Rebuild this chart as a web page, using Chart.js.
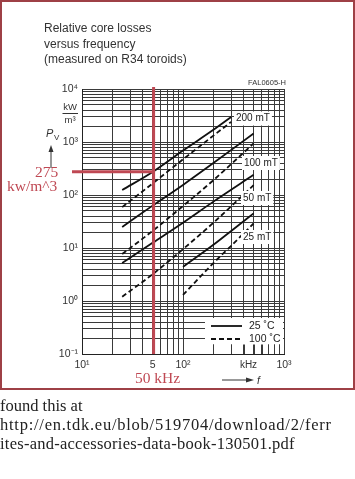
<!DOCTYPE html>
<html>
<head>
<meta charset="utf-8">
<script src="https://cdn.jsdelivr.net/npm/chart.js@4.4.1/dist/chart.umd.min.js"></script>
<style>
  body { margin: 0; background: #fff; width: 355px; height: 479px; overflow: hidden; position: relative; }
  #frame { position: absolute; left: 0; top: 0; width: 355px; height: 390px; border: 2px solid #9e4046; box-sizing: border-box; }
  #wrap { position: absolute; left: 0; top: 0; width: 355px; height: 479px; }
  #title { position: absolute; left: 44px; top: 21px; font: 12px "Liberation Sans", Arial, sans-serif; line-height: 15.5px; color: #333; }
  #source { position: absolute; left: 0; top: 396px; font: 16.5px "Liberation Serif", serif; line-height: 19px; color: #222; white-space: nowrap; }
  #source .l2 { letter-spacing: 0.75px; }
  #source .l3 { letter-spacing: 0.25px; }
</style>
</head>
<body>
<div id="frame"></div>
<div id="wrap"><canvas id="lossChart" width="355" height="479"></canvas></div>
<div id="title">Relative core losses<br>versus frequency<br>(measured on R34 toroids)</div>
<div id="source"><div>found this at</div><div class="l2">http://en.tdk.eu/blob/519704/download/2/ferr</div><div class="l3">ites-and-accessories-data-book-130501.pdf</div></div>
<script>
// frequency in kHz, core losses in kW/m^3
const freq200 = [25, 50, 100, 200, 300];
const loss200at25C = [124, 272, 690, 1700, 2970];
const loss200at100C = [59, 165, 470, 1320, 2400];

const freq100 = [25, 50, 100, 200, 500];
const loss100at25C = [25, 63, 155, 400, 1450];
const loss100at100C = [7.7, 21, 62, 190, 940];

const freq50 = [25, 50, 100, 200, 500];
const loss50at25C = [5.2, 12.5, 30, 75, 240];
const loss50at100C = [1.2, 3.2, 9.5, 30, 153];

const freq25 = [100, 200, 300, 500];
const loss25at25C = [4.4, 11.5, 21, 45];
const loss25at100C = [1.3, 5.2, 11, 29];

const fluxLabels = ['200 mT', '100 mT', '50 mT', '25 mT'];
const tempLabels = ['25 ˚C', '100 ˚C'];

const xTicks = [10, 20, 30, 40, 50, 60, 70, 80, 90, 100, 200, 300, 400, 500, 600, 700, 800, 900, 1000];
const xTickLabels = { 10: '10¹', 50: '5', 100: '10²', 1000: '10³' };
const yTicks = [0.1, 0.2, 0.3, 0.4, 0.5, 0.6, 0.7, 0.8, 0.9,
                1, 2, 3, 4, 5, 6, 7, 8, 9,
                10, 20, 30, 40, 50, 60, 70, 80, 90,
                100, 200, 300, 400, 500, 600, 700, 800, 900,
                1000, 2000, 3000, 4000, 5000, 6000, 7000, 8000, 9000, 10000];
const yTickLabels = { 0.1: '10⁻¹', 1: '10⁰', 10: '10¹', 100: '10²', 1000: '10³', 10000: '10⁴' };

// the marked operating point
const refFreq = 50;
const refLoss = 275;

const SANS = '"Liberation Sans", Arial, sans-serif';
const SERIF = '"Liberation Serif", serif';
const RED = '#bf4853';
const GRID = '#3a3a3a';

function pts(fs, ps) { return fs.map((f, i) => ({ x: f, y: ps[i] })); }

function curve(fs, ps, dashed) {
    return {
        data: pts(fs, ps),
        borderColor: '#111',
        borderWidth: 1.8,
        borderDash: dashed ? [5, 3] : [],
        pointRadius: 0,
        fill: false,
        cubicInterpolationMode: 'monotone'
    };
}

function line(ctx, x1, y1, x2, y2) {
    ctx.beginPath(); ctx.moveTo(x1, y1); ctx.lineTo(x2, y2); ctx.stroke();
}

const overlay = {
    id: 'overlay',
    afterDraw(chart) {
        const { ctx, chartArea: a, scales: { x, y } } = chart;
        ctx.save();

        // legend box covers the grid in the lower right corner
        ctx.fillStyle = '#fff';
        ctx.fillRect(a.right - 79, a.bottom - 36, 78, 26.5);
        ctx.strokeStyle = GRID;
        ctx.lineWidth = 1;
        xTicks.filter(v => v > 100 && v < 1000).forEach(v => {
            const px = Math.round(x.getPixelForValue(v)) + 0.5;
            line(ctx, px, a.bottom - 9.5, px, a.bottom);
        });
        ctx.strokeStyle = '#111';
        ctx.lineWidth = 1.8;
        line(ctx, a.right - 73, a.bottom - 28, a.right - 42, a.bottom - 28);
        ctx.setLineDash([5, 3]);
        line(ctx, a.right - 73, a.bottom - 15, a.right - 41, a.bottom - 15);
        ctx.setLineDash([]);
        ctx.fillStyle = '#222';
        ctx.font = '10.5px ' + SANS;
        ctx.textBaseline = 'middle';
        ctx.fillText(tempLabels[0], a.right - 35, a.bottom - 28);
        ctx.fillText(tempLabels[1], a.right - 35, a.bottom - 15);

        // flux density labels with white patches
        const spots = [[236, 118.5], [244, 163], [243, 198], [243, 237]];
        ctx.font = '10px ' + SANS;
        fluxLabels.forEach((t, i) => {
            const [lx, ly] = spots[i];
            const w = ctx.measureText(t).width;
            ctx.fillStyle = '#fff';
            ctx.fillRect(lx - 2, ly - 7, w + 4, 14);
            ctx.fillStyle = '#222';
            ctx.fillText(t, lx, ly);
        });

        // red marker lines at 50 kHz / 275 kW/m^3
        const vx = x.getPixelForValue(refFreq) + 1;
        const hy = y.getPixelForValue(refLoss);
        ctx.strokeStyle = RED;
        ctx.lineWidth = 3;
        line(ctx, vx, a.top - 2, vx, a.bottom);
        line(ctx, 72, hy, vx, hy);

        ctx.fillStyle = RED;
        ctx.font = '15.5px ' + SERIF;
        ctx.textAlign = 'left';
        ctx.fillText(String(refLoss), 35, hy + 1);
        ctx.fillText('kw/m^3', 7, hy + 15);
        ctx.textAlign = 'center';
        ctx.fillText(refFreq + ' kHz', vx + 4, a.bottom + 25);

        // axis annotations
        ctx.fillStyle = '#333';
        ctx.font = '9.5px ' + SANS;
        ctx.fillText('kW', 70, 107);
        ctx.fillText('m³', 70, 120);
        ctx.strokeStyle = '#333';
        ctx.lineWidth = 1;
        line(ctx, 62.5, 113.5, 78, 113.5);

        ctx.font = 'italic 11px ' + SANS;
        ctx.textAlign = 'left';
        ctx.fillText('P', 46, 134);
        ctx.font = '8px ' + SANS;
        ctx.fillText('V', 54, 138);
        line(ctx, 51, 168, 51, 150);
        ctx.beginPath();
        ctx.moveTo(51, 145); ctx.lineTo(48.5, 152); ctx.lineTo(53.5, 152); ctx.closePath();
        ctx.fill();

        ctx.font = '10px ' + SANS;
        ctx.textAlign = 'center';
        ctx.fillText('kHz', 248.5, a.bottom + 11);
        line(ctx, 222, a.bottom + 26, 248, a.bottom + 26);
        ctx.beginPath();
        ctx.moveTo(254, a.bottom + 26); ctx.lineTo(246, a.bottom + 23.5); ctx.lineTo(246, a.bottom + 28.5); ctx.closePath();
        ctx.fill();
        ctx.font = 'italic 10.5px ' + SANS;
        ctx.textAlign = 'left';
        ctx.fillText('f', 257, a.bottom + 27);

        ctx.font = '7.5px ' + SANS;
        ctx.textAlign = 'right';
        ctx.fillText('FAL0605-H', a.right + 2, a.top - 6);
        ctx.restore();
    }
};

new Chart(document.getElementById('lossChart'), {
    type: 'line',
    data: {
        datasets: [
            curve(freq200, loss200at25C, false),
            curve(freq200, loss200at100C, true),
            curve(freq100, loss100at25C, false),
            curve(freq100, loss100at100C, true),
            curve(freq50, loss50at25C, false),
            curve(freq50, loss50at100C, true),
            curve(freq25, loss25at25C, false),
            curve(freq25, loss25at100C, true)
        ]
    },
    options: {
        responsive: false,
        animation: false,
        layout: { padding: { left: 42, top: 89, right: 71, bottom: 105 } },
        plugins: { legend: { display: false }, tooltip: { enabled: false } },
        scales: {
            x: {
                type: 'logarithmic', min: 10, max: 1000,
                afterBuildTicks: s => { s.ticks = xTicks.map(v => ({ value: v })); },
                afterFit: s => { s.height = 20; },
                grid: { color: GRID, lineWidth: 1, drawTicks: false },
                border: { color: '#222', width: 1 },
                ticks: {
                    autoSkip: false, maxRotation: 0, padding: 5, color: '#333',
                    font: { family: SANS, size: 10.5 },
                    callback: v => xTickLabels[v] || ''
                }
            },
            y: {
                type: 'logarithmic', min: 0.1, max: 10000,
                afterBuildTicks: s => { s.ticks = yTicks.map(v => ({ value: v })); },
                afterFit: s => { s.width = 40; },
                grid: { color: GRID, lineWidth: 1, drawTicks: false },
                border: { color: '#222', width: 1 },
                ticks: {
                    autoSkip: false, padding: 4, color: '#333',
                    font: { family: SANS, size: 10.5 },
                    callback: v => yTickLabels[v] || ''
                }
            }
        }
    },
    plugins: [overlay]
});
</script>
</body>
</html>
